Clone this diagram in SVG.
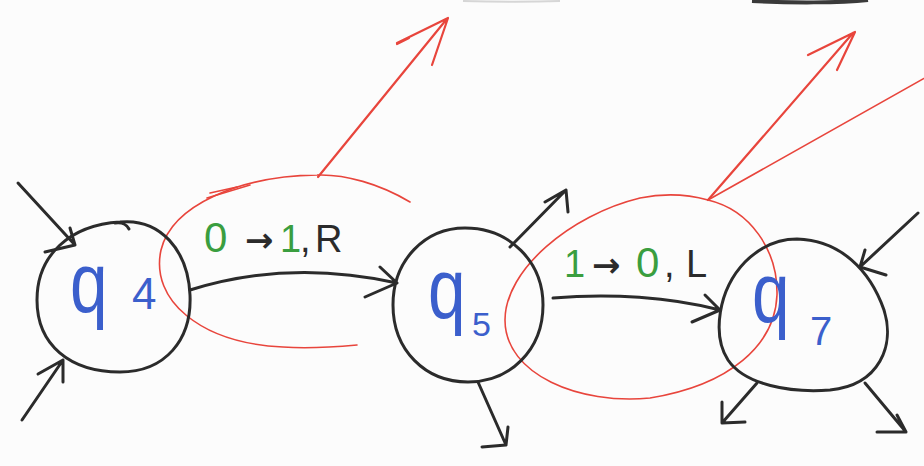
<svg xmlns="http://www.w3.org/2000/svg" width="924" height="466" viewBox="0 0 924 466">
<style>
.ink{fill:none;stroke:#2b2b2b;stroke-width:3;stroke-linecap:round;stroke-linejoin:round}
.red{fill:none;stroke:#e8453c;stroke-width:1.6;stroke-linecap:round;stroke-linejoin:round}
.redb{fill:none;stroke:#e8453c;stroke-width:2.2;stroke-linecap:round;stroke-linejoin:round}
.q{font-family:"Liberation Sans",Arial,sans-serif;fill:#3b5fcc}
.lbl{font-family:"Liberation Sans",Arial,sans-serif;font-size:38px;fill:#2b2b2b}
.g{fill:#3a9e3f}
.arr{font-family:"DejaVu Sans",sans-serif;font-size:34px;font-weight:bold}
</style>
<rect width="924" height="466" fill="#fcfcfc"/>
<path d="M752,1 C790,3 840,3 868,0" stroke="#3a3a3a" stroke-width="4" fill="none"/>
<path d="M463,1 C500,2 530,2 560,1" stroke="#d6d6d6" stroke-width="2" fill="none"/>

<g id="highlights">
<path class="red" d="M410,202 C380,184 345,174 317,175 C240,176 172,205 161,250 C150,300 200,343 283,347 C310,349 335,347 357,345"/>
<path class="red" d="M207,198 L250,185 M210,193 L237,187"/>
<path class="red" d="M708,200 C750,210 778,250 777,295 C775,345 730,385 650,398 C580,405 505,375 505,320 C505,270 570,215 640,198 C665,193 690,195 708,200"/>
<path class="redb" d="M318,177 L446,20 M397,43 L448,18 L432,65 M397,44 L409,38"/>
<path class="redb" d="M708,200 L853,33 M808,55 L855,32 L837,70"/>
<path class="red" d="M708,200 L930,75"/>
</g>

<g id="connectors">
<path class="ink" d="M18,183 L75,245 M70,228 L75,245 L45,252"/>
<path class="ink" d="M22,420 L63,360 M38,374 L63,360 L63,382"/>
<path class="ink" d="M190,290 C260,268 330,268 397,283 M380,267 L397,283 L365,297"/>
<path class="ink" d="M510,247 L566,190 M545,202 L566,190 L568,212"/>
<path class="ink" d="M478,382 L506,445 M482,447 L506,445 L508,427"/>
<path class="ink" d="M553,298 C610,293 670,297 720,310 M705,295 L720,310 L692,322"/>
<path class="ink" d="M918,213 L860,267 M865,250 L860,267 L886,275"/>
<path class="ink" d="M757,383 L722,423 M722,402 L722,423 L745,422"/>
<path class="ink" d="M865,383 L906,432 M877,432 L906,432 L897,415"/>
</g>

<g id="label-q4-q5">
<text class="lbl" y="252"><tspan class="g" x="204" font-size="42">0</tspan><tspan class="arr" x="245">→</tspan><tspan class="g" x="280">1</tspan><tspan x="300">,</tspan><tspan x="315">R</tspan></text>
</g>
<g id="label-q5-q7">
<text class="lbl" y="277"><tspan class="g" x="564">1</tspan><tspan class="arr" x="592">→</tspan><tspan class="g" x="636" font-size="42">0</tspan><tspan x="664">,</tspan><tspan x="686">L</tspan></text>
</g>

<g id="q4">
<path class="ink" d="M120,222 C160,218 188,250 190,295 C192,340 165,372 120,372 C70,372 37,345 37,300 C37,255 70,225 120,222 Z"/>
<path class="ink" d="M115,223 C122,222 127,225 129,229"/>
<text class="q" transform="translate(70,312) scale(1.35,1.7)" font-size="50">q</text>
<text class="q" x="132" y="309" font-size="44">4</text>
</g>

<g id="q5">
<path class="ink" d="M465,228 C510,228 543,262 543,305 C543,350 510,382 468,382 C425,382 393,350 393,305 C393,260 425,228 465,228 Z"/>
<text class="q" transform="translate(428,318) scale(1.35,1.7)" font-size="50">q</text>
<text class="q" x="472" y="336" font-size="34">5</text>
</g>

<g id="q7">
<path class="ink" d="M797,239 C840,240 870,270 884,310 C895,345 880,385 830,390 C790,393 745,385 728,360 C712,335 718,290 745,262 C760,247 778,239 797,239 Z"/>
<text class="q" transform="translate(752,322) scale(1.35,1.7)" font-size="50">q</text>
<text class="q" x="810" y="345" font-size="40">7</text>
</g>
</svg>
